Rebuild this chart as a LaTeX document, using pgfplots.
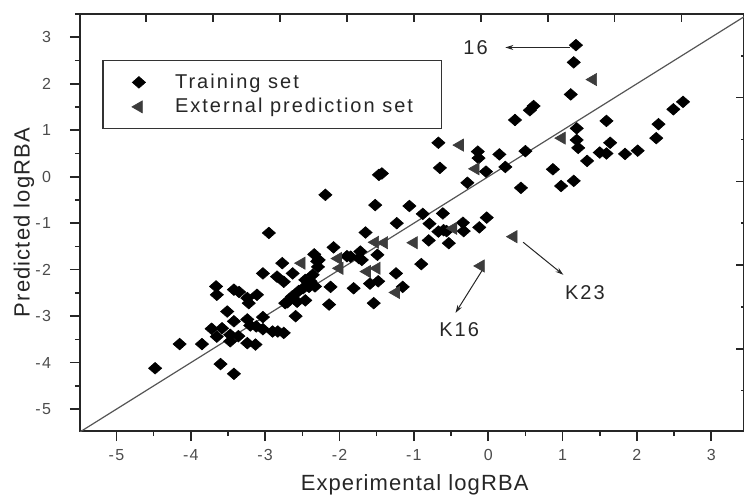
\documentclass[border=0pt]{standalone}
\usepackage{fontspec}
\setmainfont{Liberation Sans}
\newfontfamily\lsA[LetterSpace=8]{Liberation Sans}
\newfontfamily\lsL[LetterSpace=5]{Liberation Sans}
\newfontfamily\lsB[LetterSpace=10]{Liberation Sans}
\usepackage{pgfplots}
\pgfplotsset{compat=1.18}
\usetikzlibrary{arrows.meta}
\definecolor{trigray}{HTML}{3C3C3C}
\definecolor{linegray}{HTML}{555555}
\pgfdeclareplotmark{wdiamond*}{%
  \pgfpathmoveto{\pgfqpoint{0pt}{0.88\pgfplotmarksize}}%
  \pgfpathlineto{\pgfqpoint{\pgfplotmarksize}{0pt}}%
  \pgfpathlineto{\pgfqpoint{0pt}{-0.88\pgfplotmarksize}}%
  \pgfpathlineto{\pgfqpoint{-\pgfplotmarksize}{0pt}}%
  \pgfpathclose\pgfusepathqfillstroke}
\pgfplotstableread{
x y
-4.48 -4.12
-4.15 -3.60
-3.85 -3.60
-3.72 -3.27
-3.58 -3.26
-3.65 -3.44
-3.51 -2.90
-3.66 -2.36
-3.65 -2.54
-3.42 -3.11
-3.42 -2.43
-3.35 -2.48
-3.24 -2.61
-3.22 -2.72
-3.11 -2.54
-3.47 -3.40
-3.36 -3.43
-3.47 -3.54
-3.24 -3.58
-3.13 -3.61
-3.60 -4.03
-3.42 -4.24
-3.24 -3.07
-3.20 -3.20
-3.03 -3.02
-3.03 -3.28
-3.12 -3.22
-2.90 -3.33
-2.83 -3.33
-2.75 -3.36
-3.03 -2.08
-2.77 -1.86
-2.84 -2.15
-2.75 -2.26
-2.63 -2.08
-2.70 -2.70
-2.64 -2.58
-2.59 -3.00
-2.55 -2.46
-2.49 -2.40
-2.46 -2.66
-2.39 -2.25
-2.36 -2.11
-2.33 -2.36
-2.30 -1.82
-2.34 -1.67
-2.14 -2.75
-2.12 -2.37
-1.81 -2.40
-1.90 -1.71
-1.74 -1.75
-1.59 -2.30
-1.54 -2.72
-2.08 -1.52
-2.95 -1.21
-2.19 -0.39
-1.65 -1.20
-1.52 -0.61
-1.47 0.04
-1.43 0.07
-1.06 -0.63
-0.88 -0.80
-1.23 -1.00
-1.85 -1.72
-1.72 -1.61
-1.70 -1.79
-1.49 -1.68
-0.90 -1.88
-1.24 -2.08
-1.15 -2.37
-1.48 -2.25
-2.28 -1.79
-2.29 -1.94
-2.46 -2.22
-2.41 -2.37
-2.57 -2.69
-2.73 -2.72
1.18 2.83
1.15 2.46
1.11 1.77
0.61 1.52
0.56 1.43
0.36 1.22
2.62 1.61
2.49 1.45
2.29 1.13
2.26 0.83
1.59 1.20
1.19 1.04
1.19 0.79
1.21 0.62
1.64 0.73
1.50 0.52
1.59 0.50
1.84 0.49
2.01 0.56
1.33 0.34
0.87 0.16
0.98 -0.20
1.15 -0.09
0.50 0.55
0.44 -0.24
0.23 0.21
0.15 0.48
-0.14 0.54
-0.13 0.40
-0.03 0.11
-0.28 -0.13
-0.67 0.73
-0.65 0.19
-0.61 -0.79
-0.79 -1.01
-0.60 -1.15
-0.67 -1.18
-0.34 -0.99
-0.33 -1.17
-0.02 -0.88
-0.12 -1.09
-0.80 -1.37
-0.53 -1.43
-0.56 -1.17
}\training
\pgfplotstableread{
x y
1.41 2.09
0.99 0.83
-0.17 0.17
-0.38 0.68
-0.47 -1.11
-1.00 -1.42
0.34 -1.29
-0.10 -1.92
-2.51 -1.86
-2.02 -1.76
-2.00 -1.97
-1.63 -2.04
-1.52 -1.41
-1.40 -1.42
-1.50 -1.97
-1.24 -2.49
}\external
\begin{document}
\begin{tikzpicture}
\useasboundingbox (-40pt,-33.5pt) rectangle (332pt,215.5pt);
\begin{axis}[
  scale only axis, width=332pt, height=208.5pt,
  xmin=-5.49, xmax=3.44, ymin=-5.47, ymax=3.5,
  axis line style={line width=0.8pt, black!85},
  xtick={-5,...,3}, ytick={-5,...,3},
  minor xtick={-5.5,-4.5,...,3.5}, minor ytick={-5.5,-4.5,...,3.5},
  xtick pos=bottom, ytick pos=left,
  tick align=outside,
  major tick length=5pt, minor tick length=2.5pt,
  every tick/.style={line width=0.8pt, black!85},
  /pgf/number format/assume math mode=true,
  tick label style={font=\lsA\fontsize{8}{9}\selectfont, text=black!70},
  yticklabel style={xshift=-6pt},
  xticklabel style={yshift=-0.5pt},
  xlabel={Experimental logRBA}, ylabel={Predicted logRBA},
  label style={font=\lsL\fontsize{11}{13}\selectfont, text=black!85},
  xlabel style={at={(rel axis cs:0.504,0)}, anchor=center, yshift=-27pt},
  ylabel style={at={(rel axis cs:0,0.5)}, anchor=center, yshift=28pt},
  legend cell align=left,
  legend style={at={(axis cs:-5.19,2.51)}, anchor=north west, draw=black!80,
    line width=0.6pt, inner xsep=14.5pt, inner ysep=5.5pt, row sep=1.5pt,
    column sep=12.8pt,
    font=\lsB\fontsize{10}{11}\selectfont, text=black!85,
    nodes={inner ysep=1pt}},
]
\addplot[linegray, line width=0.6pt, forget plot] coordinates {(-5.5,-5.5) (3.6,3.6)};
\addplot[only marks, mark=wdiamond*, mark size=3.3pt, mark options={black, fill=black, line width=0.3pt}] table[x=x,y=y] {\training};
\addlegendentry{\makebox[116.8pt][l]{Training set}}
\addplot[only marks, mark=triangle*, mark size=3.5pt, mark options={trigray, fill=trigray, rotate=90, line width=0.3pt}] table[x=x,y=y] {\external};
\addlegendentry{\makebox[116.8pt][l]{External prediction set}}
\node[font=\lsB\fontsize{10}{11}\selectfont, text=black!85] at (axis cs:-0.17,2.78) {16};
\node[font=\lsB\fontsize{10}{11}\selectfont, text=black!85] at (axis cs:1.30,-2.50) {K23};
\node[font=\lsB\fontsize{10}{11}\selectfont, text=black!85] at (axis cs:-0.39,-3.28) {K16};
\draw[-{Stealth[length=4pt,width=2.5pt]}, line width=0.5pt, black!85] (axis cs:1.10,2.78) -- (axis cs:0.23,2.78);
\draw[-{Stealth[length=4pt,width=2.5pt]}, line width=0.5pt, black!85] (axis cs:0.47,-1.41) -- (axis cs:1.01,-2.11);
\draw[-{Stealth[length=4pt,width=2.5pt]}, line width=0.5pt, black!85] (axis cs:-0.06,-1.96) -- (axis cs:-0.44,-2.93);
\end{axis}
\begin{axis}[
  scale only axis, width=332pt, height=208.5pt,
  xmin=-5.49, xmax=3.44, ymin=-5.47, ymax=3.5,
  axis line style={draw=none},
  xtick pos=top, ytick pos=right, tick align=inside,
  xtick={-4.6,-3.7,-2.8,-1.9,-1.0,-0.1,0.8,1.7,2.6},
  ytick={1.7,-0.1,-1.9,-3.7},
  minor ytick={2.6,0.8,-1.0,-2.8,-4.6},
  xticklabels={}, yticklabels={},
  every tick/.style={line width=0.8pt, black!85},
  major tick length=4pt, minor tick length=1.5pt,
]
\end{axis}
\end{tikzpicture}
\end{document}
